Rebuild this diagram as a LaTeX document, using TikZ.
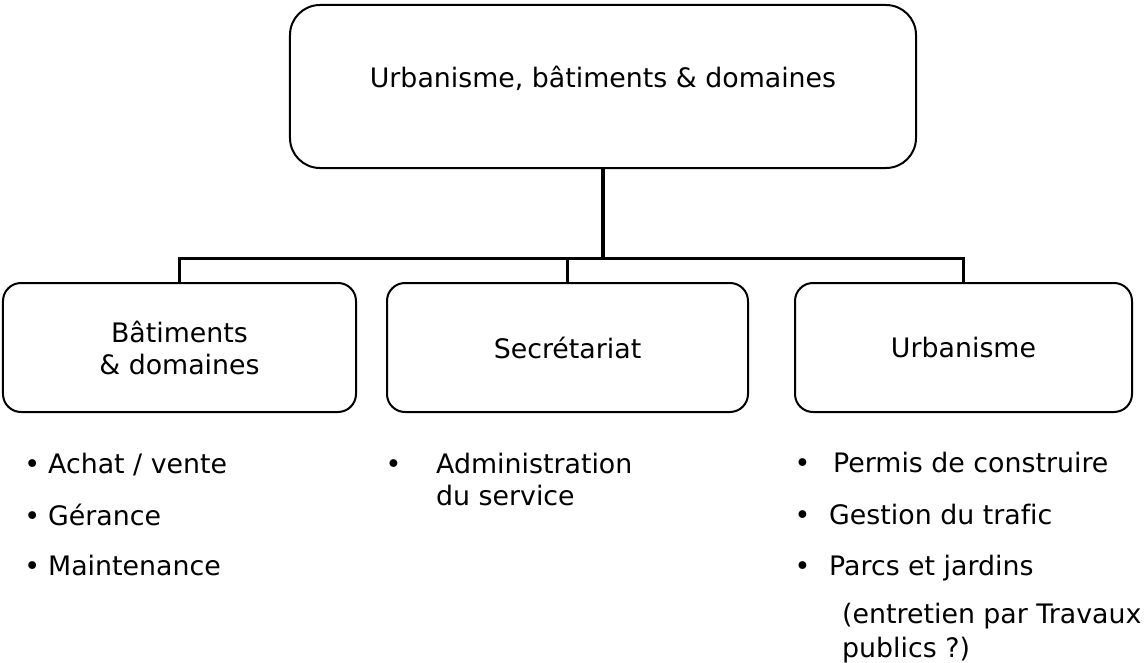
\documentclass[tikz,border=0pt]{standalone}
\usepackage{fontspec}
\setmainfont{DejaVu Sans}[Ligatures=NoCommon]
% a bullet set in a box of fixed width, followed by the item text
\newcommand\bulletrow[2]{\makebox[#1][l]{•}#2}
\begin{document}
\begin{tikzpicture}[x=1bp,y=-1bp,
  every node/.style={font=\fontsize{26.8bp}{32bp}\selectfont},
  box/.style={draw=black, line width=2bp, rounded corners=18bp, fill=white,
    inner sep=0pt, align=center},
  topbox/.style={box, rounded corners=30bp, minimum width=626bp,
    minimum height=163bp, text height=20bp, text depth=17bp},
  unitbox/.style={box, minimum height=129bp},
  item/.style={anchor=base west, inner sep=0pt},
  link/.style={line width=2.5bp},
  trunk/.style={line width=3.5bp}]
\useasboundingbox (0,0) rectangle (1147,663);

% boxes
\node[topbox] (top) at (603,86.5) {Urbanisme, bâtiments \& domaines};
\node[unitbox, minimum width=353bp] (bat) at (179.5,347.5) {Bâtiments\\\& domaines};
\node[unitbox, minimum width=361bp] (sec) at (567.5,347.5) {Secrétariat};
\node[unitbox, minimum width=337bp] (urb) at (963.5,347.5) {Urbanisme};

% connectors
\coordinate (bar) at (0,258.7);
\draw[link] (bat.north) -- (bat.north |- bar) -- (urb.north |- bar) -- (urb.north);
\draw[link] (sec.north) -- (sec.north |- bar);
\draw[trunk] (top.south) -- (top.south |- bar) -- (sec.north |- bar);

% tasks of each unit
\node[item] (l1) at (24.3,473) {\bulletrow{23.7bp}{Achat / vente}};
\node[item] (l2) at (24.3,525) {\bulletrow{23.7bp}{Gérance}};
\node[item] (l3) at (24.3,575) {\bulletrow{23.7bp}{Maintenance}};

\node[item] (m1) at (385.3,473) {\bulletrow{50.7bp}{\begin{tabular}[t]{@{}l@{}}Administration\\du service\end{tabular}}};

\node[item] (r1) at (794.3,472) {\bulletrow{38.7bp}{Permis de construire}};
\node[item] (r2) at (794.3,524) {\bulletrow{34.7bp}{Gestion du trafic}};
\node[item] (r3) at (794.3,575) {\bulletrow{34.7bp}{Parcs et jardins}};
\node[item, font=\fontsize{26.8bp}{34bp}\selectfont] (r3n) at (842,623)
  {\begin{tabular}[t]{@{}l@{}}(entretien par Travaux\\publics ?)\end{tabular}};
\end{tikzpicture}
\end{document}
